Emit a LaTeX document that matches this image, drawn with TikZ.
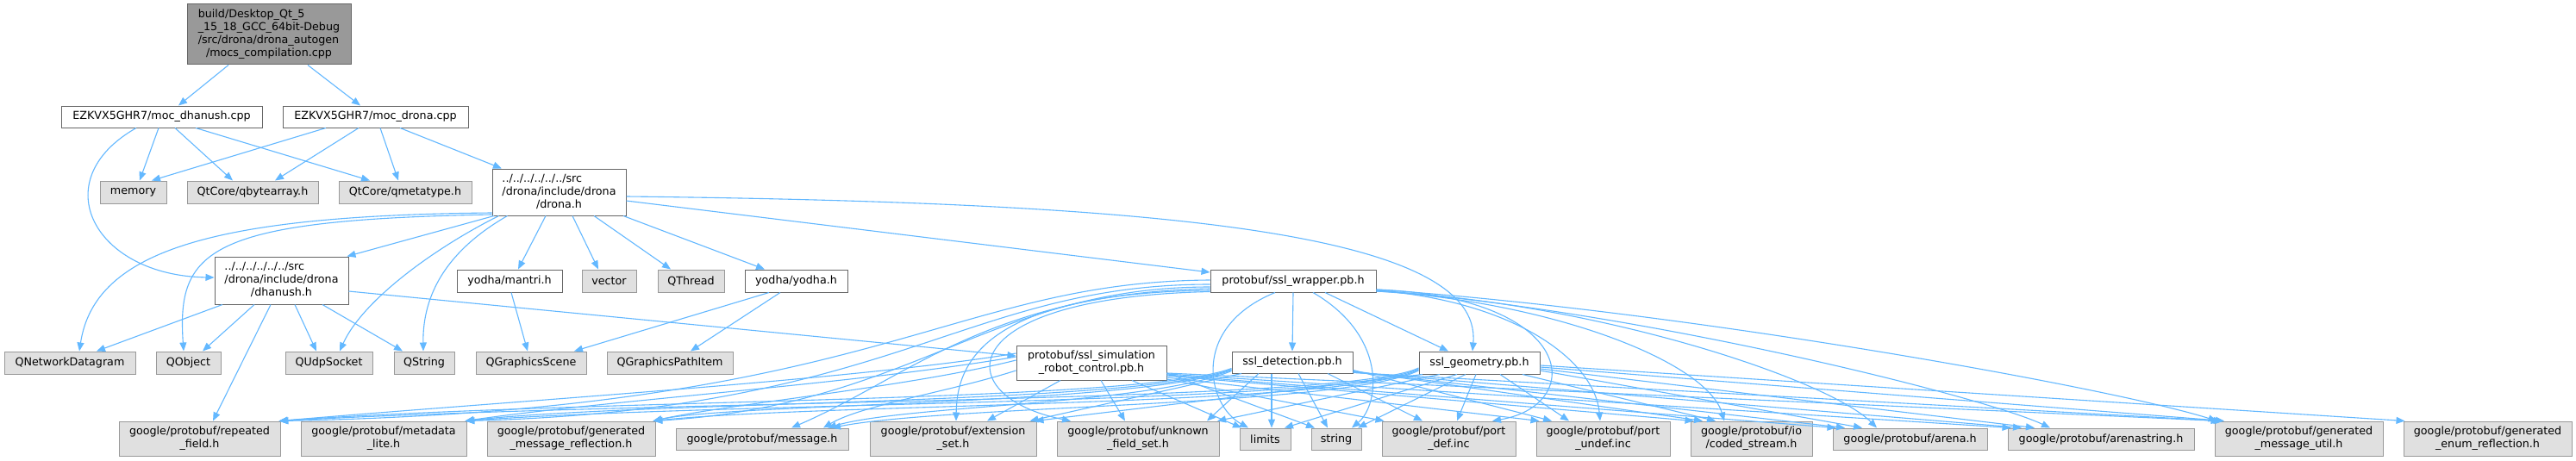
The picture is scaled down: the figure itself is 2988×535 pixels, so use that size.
\documentclass[tikz,border=0pt]{standalone}
\usepackage{fontspec}
\setmainfont{DejaVu Sans}
\usetikzlibrary{arrows.meta}
\definecolor{edgec}{HTML}{63B8FF}
\definecolor{gfill}{HTML}{E0E0E0}
\definecolor{gdraw}{HTML}{999999}
\definecolor{wdraw}{HTML}{666666}
\definecolor{rfill}{HTML}{999999}
\newcommand\nf{\fontsize{12.7}{15}\selectfont}
\newcommand\ml[2]{\begin{tabular}{@{}l@{}}#1\\\multicolumn{1}{@{}c@{}}{#2}\end{tabular}}
\tikzset{
  basebox/.style={inner sep=0pt, line width=1pt, font=\nf, text=black},
  extnode/.style={basebox, draw=gdraw, fill=gfill},
  intnode/.style={basebox, draw=wdraw, fill=white},
  rootnode/.style={basebox, draw=wdraw, fill=rfill},
  sz/.style 2 args={minimum width=#1pt, minimum height=#2pt},
  dep/.style={draw=edgec, line width=1.1pt, -{Triangle[length=10pt,width=8pt]}}
}
\begin{document}
\begin{tikzpicture}[x=1pt,y=-1pt]
\fill[white] (0,0) rectangle (2988,535);
\useasboundingbox (0,0) rectangle (2988,535);
% nodes
\node[rootnode, sz={190}{70}] (root) at (312,40) {\ml{build/Desktop\_Qt\_5\\\_15\_18\_GCC\_64bit-Debug\\/src/drona/drona\_autogen}{/mocs\_compilation.cpp}};
\node[intnode, sz={233}{25}] (mdh) at (187.5,135.5) {EZKVX5GHR7/moc\_dhanush.cpp};
\node[intnode, sz={215}{25}] (mdr) at (435.5,135.5) {EZKVX5GHR7/moc\_drona.cpp};
\node[extnode, sz={77}{26}] (mem) at (154.5,223) {memory};
\node[extnode, sz={152}{26}] (qba) at (293,223) {QtCore/qbytearray.h};
\node[extnode, sz={154}{26}] (qmt) at (470,223) {QtCore/qmetatype.h};
\node[intnode, sz={155}{54}] (dro) at (648.5,223) {\ml{../../../../../../src\\/drona/include/drona}{/drona.h}};
\node[intnode, sz={155}{55}] (dha) at (326.5,325.5) {\ml{../../../../../../src\\/drona/include/drona}{/dhanush.h}};
\node[intnode, sz={122}{26}] (man) at (591,326) {yodha/mantri.h};
\node[extnode, sz={63}{26}] (vec) at (706.5,326) {vector};
\node[extnode, sz={77}{26}] (qth) at (801.5,326) {QThread};
\node[intnode, sz={119}{26}] (yod) at (923.5,326) {yodha/yodha.h};
\node[intnode, sz={192}{26}] (ssw) at (1500,326) {protobuf/ssl\_wrapper.pb.h};
\node[extnode, sz={152}{26}] (qnd) at (81,421) {QNetworkDatagram};
\node[extnode, sz={75}{26}] (qob) at (218.5,421) {QObject};
\node[extnode, sz={101}{26}] (qud) at (381.5,421) {QUdpSocket};
\node[extnode, sz={70}{26}] (qst) at (492,421) {QString};
\node[extnode, sz={128}{26}] (qgs) at (616,421) {QGraphicsScene};
\node[extnode, sz={146}{26}] (qgp) at (777,421) {QGraphicsPathItem};
\node[intnode, sz={174}{40}] (sim) at (1266,421) {\ml{protobuf/ssl\_simulation}{\_robot\_control.pb.h}};
\node[intnode, sz={140}{25}] (det) at (1499,420.5) {ssl\_detection.pb.h};
\node[intnode, sz={140}{26}] (geo) at (1716,421) {ssl\_geometry.pb.h};
\node[extnode, sz={187}{40}] (rep) at (231.5,509) {\ml{google/protobuf/repeated}{\_field.h}};
\node[extnode, sz={192}{40}] (mdl) at (445,509) {\ml{google/protobuf/metadata}{\_lite.h}};
\node[extnode, sz={195}{40}] (gmr) at (662.5,509) {\ml{google/protobuf/generated}{\_message\_reflection.h}};
\node[extnode, sz={200}{25}] (msg) at (884,509.5) {google/protobuf/message.h};
\node[extnode, sz={193}{40}] (ext) at (1105.5,509) {\ml{google/protobuf/extension}{\_set.h}};
\node[extnode, sz={188}{40}] (unk) at (1320,509) {\ml{google/protobuf/unknown}{\_field\_set.h}};
\node[extnode, sz={59}{25}] (lim) at (1467.5,509.5) {limits};
\node[extnode, sz={58}{25}] (str) at (1550,509.5) {string};
\node[extnode, sz={155}{40}] (pdf) at (1680.5,509) {\ml{google/protobuf/port}{\_def.inc}};
\node[extnode, sz={155}{40}] (pud) at (1859.5,509) {\ml{google/protobuf/port}{\_undef.inc}};
\node[extnode, sz={141}{40}] (cod) at (2031.5,509) {\ml{google/protobuf/io}{/coded\_stream.h}};
\node[extnode, sz={179}{25}] (are) at (2215.5,509.5) {google/protobuf/arena.h};
\node[extnode, sz={216}{25}] (ars) at (2437,509.5) {google/protobuf/arenastring.h};
\node[extnode, sz={195}{40}] (gmu) at (2666.5,509) {\ml{google/protobuf/generated}{\_message\_util.h}};
\node[extnode, sz={195}{40}] (ger) at (2885.5,509) {\ml{google/protobuf/generated}{\_enum\_reflection.h}};
% root
\draw[dep] ([xshift=-47pt]root.south) -- ([xshift=19.5pt]mdh.north);
\draw[dep] ([xshift=45pt]root.south) -- ([xshift=-17.5pt]mdr.north);
% moc_dhanush
\draw[dep] ([xshift=-3.5pt]mdh.south) -- ([xshift=7.5pt]mem.north);
\draw[dep] ([xshift=15.5pt]mdh.south) -- ([xshift=-23pt]qba.north);
\draw[dep] ([xshift=39.5pt]mdh.south) -- ([xshift=-41pt]qmt.north);
\draw[dep] ([xshift=-29.5pt]mdh.south) .. controls (50,210) and (110,320) .. ([yshift=3.5pt]dha.west);
% moc_drona
\draw[dep] ([xshift=-57.5pt]mdr.south) -- ([xshift=21.5pt]mem.north);
\draw[dep] ([xshift=-19.5pt]mdr.south) -- ([xshift=26pt]qba.north);
\draw[dep] ([xshift=5.5pt]mdr.south) -- ([xshift=-8pt]qmt.north);
\draw[dep] ([xshift=28.5pt]mdr.south) -- ([xshift=-66.5pt]dro.north);
% drona.h
\draw[dep] ([xshift=-75.5pt]dro.south) -- ([xshift=-2pt]dha.north east);
\draw[dep] ([yshift=-24pt]dro.west) .. controls (250,250) and (110,290) .. ([xshift=11pt]qnd.north);
\draw[dep] ([yshift=-26pt]dro.west) .. controls (240,255) and (205,290) .. ([xshift=-5.5pt]qob.north);
\draw[dep] ([xshift=-70pt]dro.south) .. controls (500,290) and (420,350) .. ([xshift=12.5pt]qud.north);
\draw[dep] ([xshift=-60pt]dro.south) .. controls (520,290) and (490,340) .. ([xshift=-1pt]qst.north);
\draw[dep] ([xshift=-15.5pt]dro.south) -- ([xshift=10pt]man.north);
\draw[dep] ([xshift=15.5pt]dro.south) -- ([xshift=-12.5pt]vec.north);
\draw[dep] ([xshift=40.5pt]dro.south) -- ([xshift=-23.5pt]qth.north);
\draw[dep] ([xshift=74.5pt]dro.south) -- ([xshift=-36.5pt]yod.north);
\draw[dep] ([yshift=-10pt]dro.east) -- ([yshift=10pt]ssw.west);
\draw[dep] ([yshift=-5pt]dro.east) .. controls (1350,235) and (1720,270) .. ([xshift=-8pt]geo.north);
% dhanush.h
\draw[dep] ([xshift=-68.5pt]dha.south) -- ([xshift=31pt]qnd.north);
\draw[dep] ([xshift=-31.5pt]dha.south) -- ([xshift=16.5pt]qob.north);
\draw[dep] ([xshift=-12.5pt]dha.south) -- ([xshift=15.5pt]rep.north);
\draw[dep] ([xshift=15.5pt]dha.south) -- ([xshift=-14.5pt]qud.north);
\draw[dep] ([xshift=47.5pt]dha.south) -- ([xshift=-25pt]qst.north);
\draw[dep] ([yshift=-12.5pt]dha.east) -- ([yshift=8pt]sim.west);
% mantri, yodha
\draw[dep] ([xshift=2pt]man.south) -- ([xshift=-4pt]qgs.north);
\draw[dep] ([xshift=-31.5pt]yod.south) -- ([xshift=50pt]qgs.north);
\draw[dep] ([xshift=-18.5pt]yod.south) -- ([xshift=24pt]qgp.north);
% ssl_wrapper
\draw[dep] (ssw.south) -- (det.north);
\draw[dep] ([xshift=37pt]ssw.south) -- ([xshift=-36pt]geo.north);
\draw[dep] ([xshift=-21pt]ssw.south) .. controls (1380,380) and (1400,470) .. ([xshift=-19.5pt]lim.north);
\draw[dep] ([xshift=23pt]ssw.south) .. controls (1610,390) and (1600,470) .. ([xshift=18pt]str.north);
\draw[dep] ([yshift=1pt]ssw.west) .. controls (1100,327) and (1020,475) .. ([xshift=-1pt]rep.north east);
\draw[dep] ([yshift=-4pt]ssw.west) .. controls (1120,330) and (1040,475) .. ([xshift=-1pt]mdl.north east);
\draw[dep] ([yshift=-7pt]ssw.west) .. controls (1150,333) and (1060,470) .. ([xshift=-2pt]gmr.north east);
\draw[dep] ([yshift=-9pt]ssw.west) .. controls (1150,340) and (1050,440) .. ([xshift=34pt]msg.north);
\draw[dep] ([yshift=-11pt]ssw.west) .. controls (1130,340) and (1110,430) .. ([xshift=3.5pt]ext.north);
\draw[dep] ([yshift=-12.5pt]ssw.west) .. controls (1100,345) and (1100,460) .. ([xshift=-78pt]unk.north);
\draw[dep] ([yshift=-10pt]ssw.east) .. controls (1830,345) and (1840,470) .. ([xshift=50.5pt]pdf.north);
\draw[dep] ([yshift=-11pt]ssw.east) .. controls (1760,350) and (1850,420) .. ([xshift=-3.5pt]pud.north);
\draw[dep] ([yshift=-12pt]ssw.east) .. controls (1800,350) and (1980,420) .. ([xshift=-31.5pt]cod.north);
\draw[dep] ([yshift=-12pt]ssw.east) .. controls (1850,350) and (2120,440) .. ([xshift=-38.5pt]are.north);
\draw[dep] ([yshift=-11pt]ssw.east) .. controls (1900,360) and (2300,460) .. ([xshift=-59pt]ars.north);
\draw[dep] ([yshift=-10pt]ssw.east) .. controls (1950,360) and (2450,450) .. ([xshift=3pt]gmu.north west);
% ssl_simulation_robot_control
\draw[dep] ([yshift=11pt]sim.west) .. controls (1000,440) and (600,465) .. ([xshift=-2pt]rep.north east);
\draw[dep] ([yshift=7pt]sim.west) .. controls (1000,445) and (700,465) .. ([xshift=-2pt]mdl.north east);
\draw[dep] ([yshift=3pt]sim.west) .. controls (1050,450) and (850,468) .. ([xshift=-3pt]gmr.north east);
\draw[dep] ([yshift=-9pt]sim.west) .. controls (1100,455) and (1000,470) .. ([xshift=71pt]msg.north);
\draw[dep] ([xshift=-36pt]sim.south) -- ([xshift=39.5pt]ext.north);
\draw[dep] ([xshift=11pt]sim.south) -- ([xshift=-15pt]unk.north);
\draw[dep] ([xshift=47pt]sim.south) -- ([xshift=-27.5pt]lim.north);
\draw[dep] ([yshift=-12pt]sim.east) -- ([xshift=-25pt]str.north);
\draw[dep] ([yshift=-19pt]sim.east) -- ([xshift=3pt]pdf.north west);
\draw[dep] ([yshift=-17pt]sim.east) -- ([xshift=4pt]pud.north west);
\draw[dep] ([yshift=-15pt]sim.east) -- ([xshift=4pt]cod.north west);
\draw[dep] ([yshift=-14pt]sim.east) -- ([xshift=4pt]are.north west);
\draw[dep] ([yshift=-13pt]sim.east) -- ([xshift=4pt]ars.north west);
\draw[dep] ([yshift=-12pt]sim.east) -- ([xshift=6pt]gmu.north west);
% ssl_detection
\draw[dep] ([yshift=-7pt]det.west) .. controls (1320,468) and (700,462) .. ([xshift=-2pt]rep.north east);
\draw[dep] ([yshift=-8pt]det.west) .. controls (1320,470) and (750,465) .. ([xshift=-2pt]mdl.north east);
\draw[dep] ([yshift=-9pt]det.west) .. controls (1320,470) and (850,468) .. ([xshift=-3pt]gmr.north east);
\draw[dep] ([yshift=-10pt]det.west) .. controls (1330,470) and (1050,470) .. ([xshift=76pt]msg.north);
\draw[dep] ([xshift=-59pt]det.south) -- ([xshift=-8pt]ext.north east);
\draw[dep] ([xshift=-39pt]det.south) -- ([xshift=80pt]unk.north);
\draw[dep] ([xshift=-24pt]det.south) -- ([xshift=7.5pt]lim.north);
\draw[dep] ([xshift=7pt]det.south) -- ([xshift=-10pt]str.north);
\draw[dep] ([xshift=41pt]det.south) -- ([xshift=-30.5pt]pdf.north);
\draw[dep] ([yshift=-9pt]det.east) -- ([xshift=-59.5pt]pud.north);
\draw[dep] ([yshift=-10pt]det.east) -- ([xshift=-56.5pt]cod.north);
\draw[dep] ([yshift=-11pt]det.east) -- ([xshift=-75.5pt]are.north);
\draw[dep] ([yshift=-11.5pt]det.east) -- ([xshift=-92pt]ars.north);
\draw[dep] ([yshift=-12pt]det.east) -- ([xshift=9pt]gmu.north west);
% ssl_geometry
\draw[dep] ([yshift=-6pt]geo.west) .. controls (1560,468) and (800,463) .. ([xshift=-2pt]rep.north east);
\draw[dep] ([yshift=-7pt]geo.west) .. controls (1560,470) and (850,466) .. ([xshift=-2pt]mdl.north east);
\draw[dep] ([yshift=-8pt]geo.west) .. controls (1560,472) and (950,468) .. ([xshift=-3pt]gmr.north east);
\draw[dep] ([yshift=-9pt]geo.west) .. controls (1560,472) and (1100,470) .. ([xshift=81pt]msg.north);
\draw[dep] ([xshift=-66pt]geo.south) -- ([xshift=-2pt]ext.north east);
\draw[dep] ([xshift=-46pt]geo.south) -- ([xshift=92pt]unk.north);
\draw[dep] ([xshift=-26pt]geo.south) -- ([xshift=22.5pt]lim.north);
\draw[dep] ([xshift=-16pt]geo.south) -- ([xshift=25pt]str.north);
\draw[dep] ([xshift=-4pt]geo.south) -- ([xshift=9.5pt]pdf.north);
\draw[dep] ([xshift=24pt]geo.south) -- ([xshift=-39.5pt]pud.north);
\draw[dep] ([xshift=50pt]geo.south) -- ([xshift=-41.5pt]cod.north);
\draw[dep] ([yshift=-9pt]geo.east) -- ([xshift=-55.5pt]are.north);
\draw[dep] ([yshift=-7pt]geo.east) -- ([xshift=-77pt]ars.north);
\draw[dep] ([yshift=-5pt]geo.east) -- ([xshift=-86.5pt]gmu.north);
\draw[dep] ([yshift=-3pt]geo.east) -- ([xshift=2pt]ger.north west);
\end{tikzpicture}
\end{document}
